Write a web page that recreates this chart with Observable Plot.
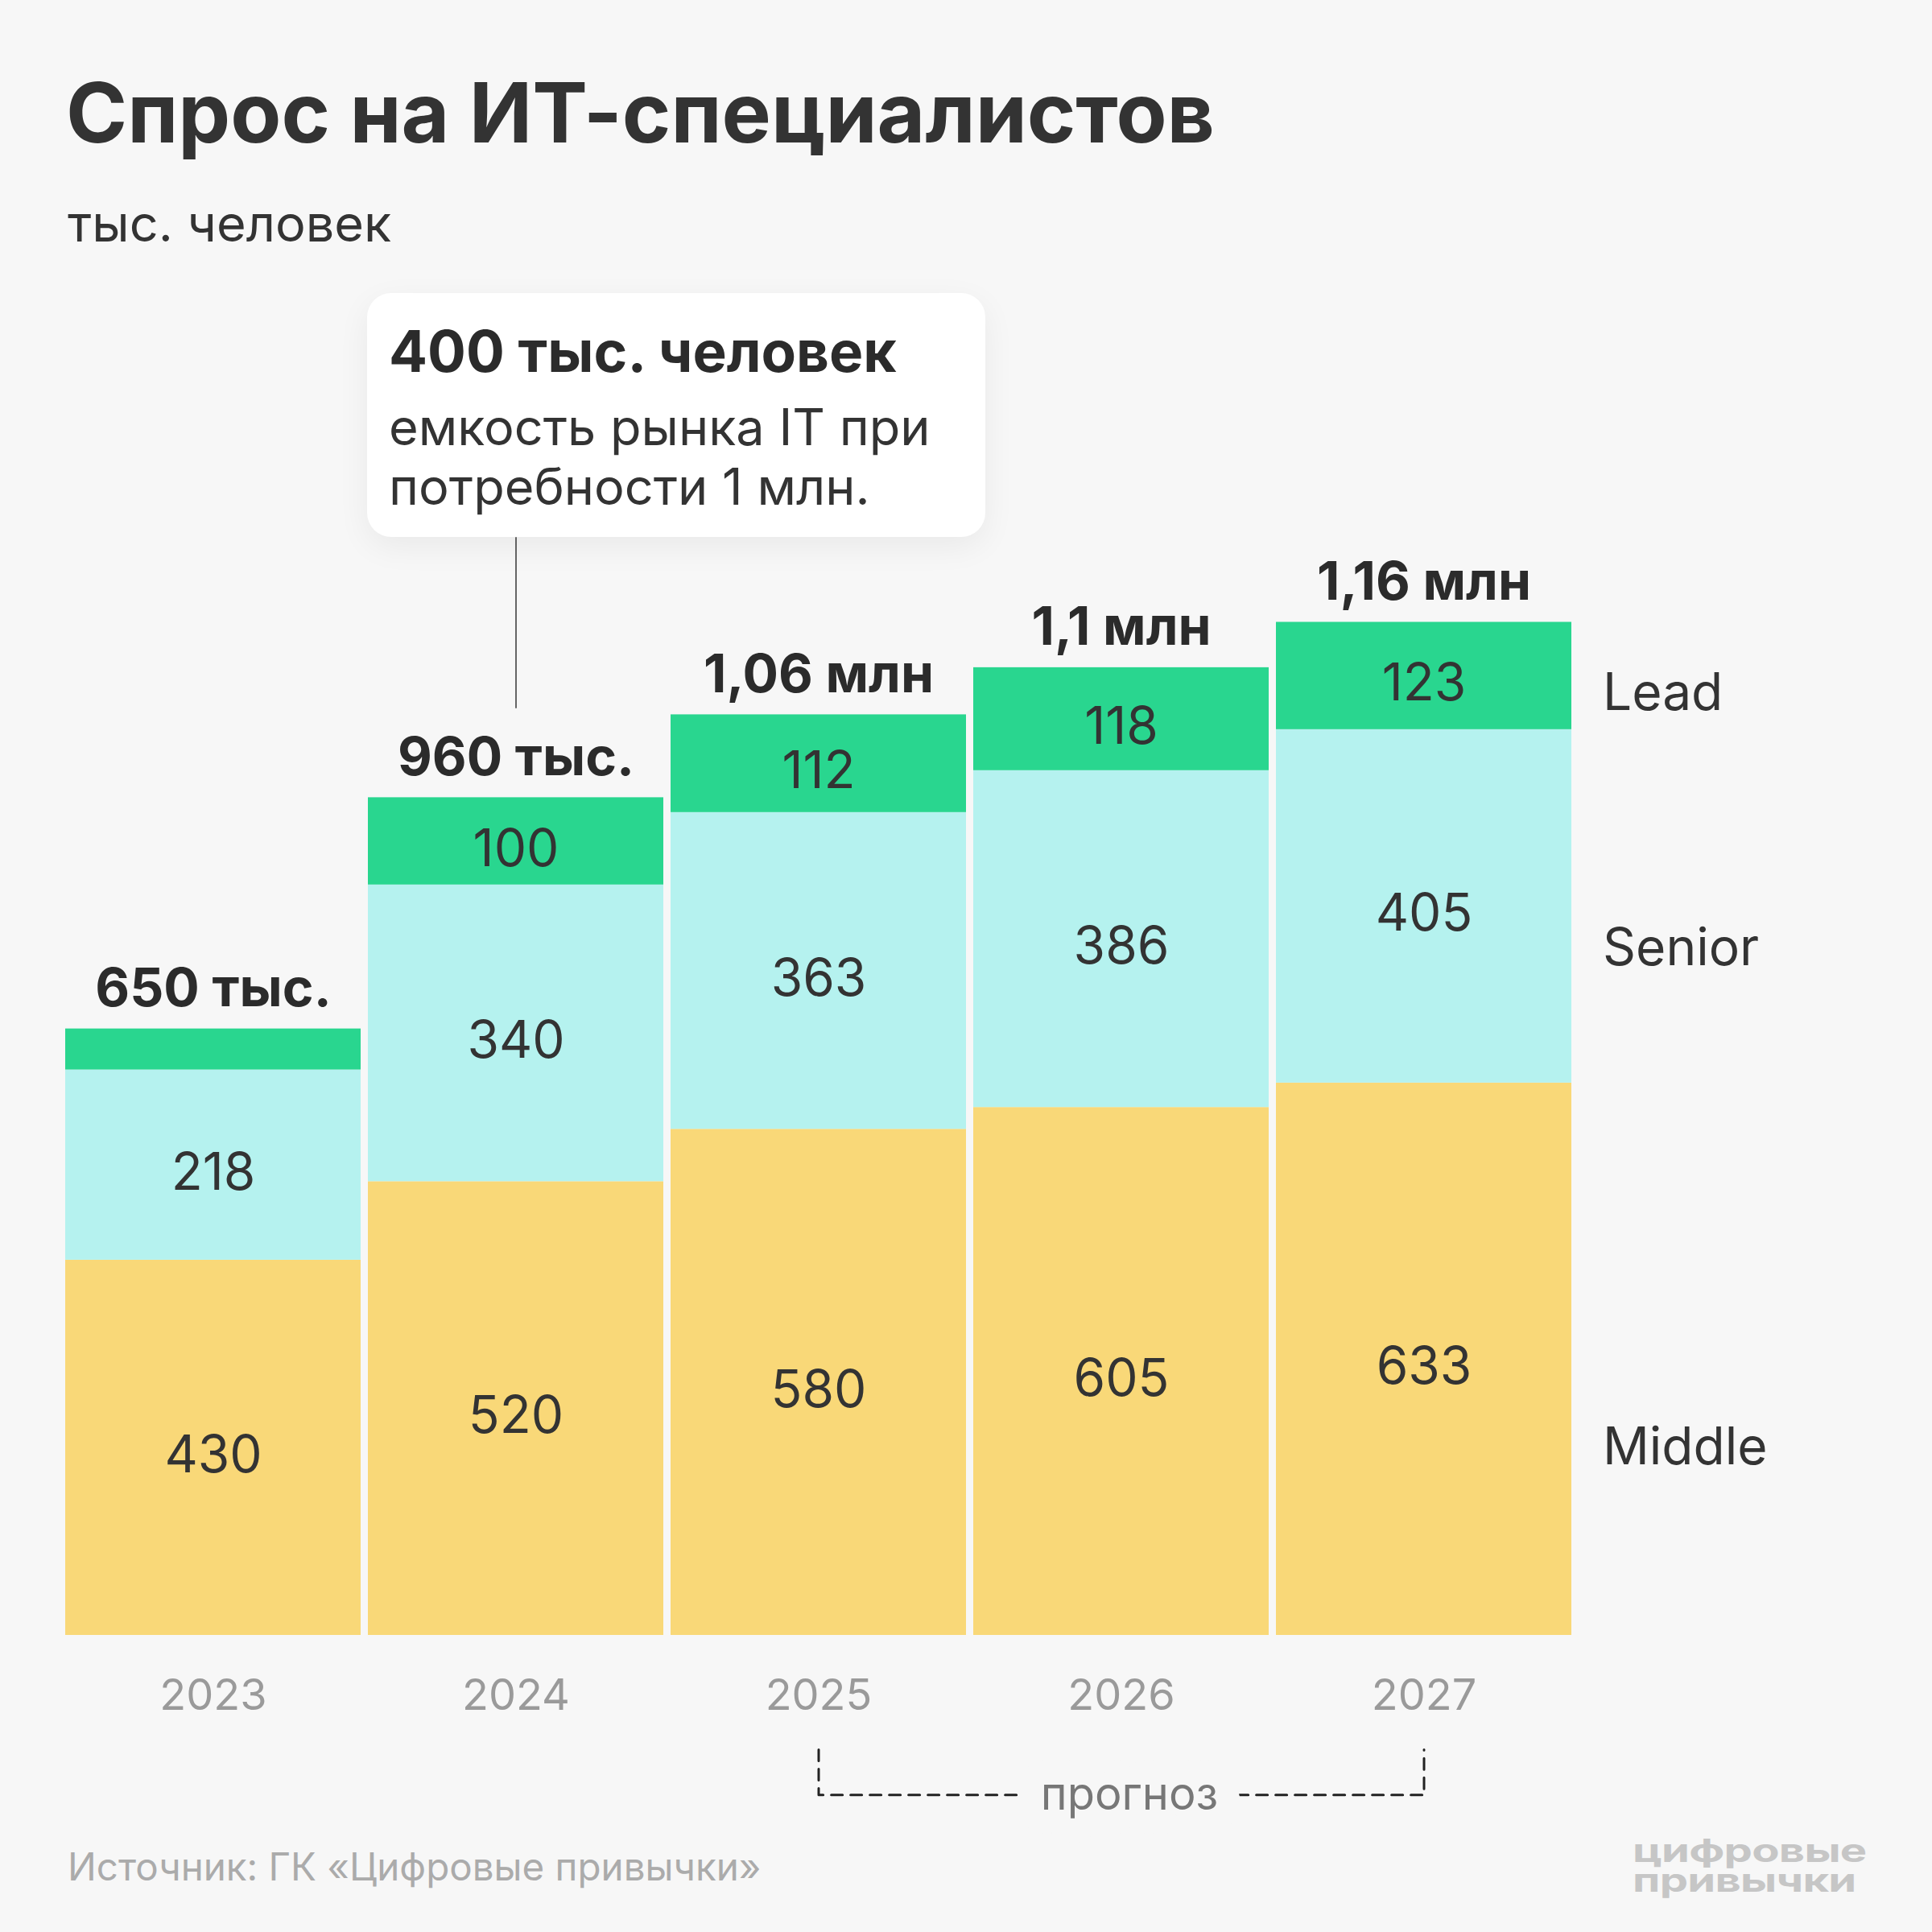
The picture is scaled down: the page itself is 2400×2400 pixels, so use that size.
<!DOCTYPE html>
<html><head><meta charset="utf-8">
<script src="https://cdn.jsdelivr.net/npm/d3@7"></script>
<script src="https://cdn.jsdelivr.net/npm/@observablehq/plot@0.6"></script>
<style>
body{margin:0;background:#f7f7f7;}
#root{position:relative;width:2400px;height:2400px;font-family:Inter,"Noto Sans",sans-serif;color:#333;background:#f7f7f7;overflow:hidden}
#header{position:relative;height:340px}
.t{position:absolute;white-space:nowrap;line-height:1}
#chart svg{display:block}
</style></head><body>
<div id="root">
 <div id="header">
  <div class="t" style="left:82px;top:88px;font-size:103px;font-weight:700;color:#333">Спрос на ИТ-специалистов</div>
  <div class="t" style="left:84px;top:246px;font-size:63px;color:#333">тыс. человек</div>
 </div>
 <div id="chart"></div>
 <div id="footer" style="position:relative;height:140px">
  <div class="t" style="left:84px;top:35px;font-size:47.5px;color:#ababab">Источник: ГК «Цифровые привычки»</div>
  <div class="t" style="right:81px;top:20px;font-size:40px;font-weight:700;color:#c6c6c6;line-height:37px;text-align:left;transform:scaleX(1.4);transform-origin:right top;letter-spacing:-0.5px">цифровые<br>привычки</div>
 </div>
 <div id="callout" style="position:absolute;left:456px;top:364px;width:768px;height:303px;background:#fff;border-radius:30px;box-shadow:0 12px 40px rgba(0,0,0,0.06)">
  <div class="t" style="left:27px;top:37px;font-size:71px;font-weight:700;color:#2b2b2b">400 тыс. человек</div>
  <div class="t" style="left:27px;top:129px;font-size:63px;line-height:74px;color:#333">емкость рынка IT при<br>потребности 1 млн.</div>
 </div>
</div>
<script>
const years = ["2023","2024","2025","2026","2027"];
const middle = [430,520,580,605,633];
const senior = [218,340,363,386,405];
const lead = [47,100,112,118,123];
const totalLabels = ["650 тыс.","960 тыс.","1,06 млн","1,1 млн","1,16 млн"];
const seriesNames = ["Middle","Senior","Lead"];
const seriesColors = ["#F9D878","#B5F2EF","#29D68F"];
const seriesLabelY = [215,787,1079];
const forecastFrom = "2025", forecastTo = "2027", forecastMid = "2026";
const forecastText = "прогноз";
const bracketY = [-131,-183];
const calloutYear = "2024";
const calloutLineY = [1062,1258];

const seriesArrays = [middle, senior, lead];
const rows = [];
years.forEach((yr,i)=>{
  let base = 0;
  seriesArrays.forEach((arr,j)=>{
    rows.push({year:yr, series:seriesNames[j], value:arr[i], y1:base, y2:base+arr[i]});
    base += arr[i];
  });
});
const totals = years.map((yr,i)=>({year:yr, total:middle[i]+senior[i]+lead[i], label:totalLabels[i]}));
const bracket = [
  {x:forecastFrom, y:bracketY[0]},
  {x:forecastFrom, y:bracketY[1]},
  {x:forecastTo, y:bracketY[1]},
  {x:forecastTo, y:bracketY[0]}
];
const seriesLabels = seriesNames.map((s,i)=>({name:s, y:seriesLabelY[i], year:years[years.length-1]}));

const chart = Plot.plot({
  width:2400, height:1920,
  marginLeft:80, marginRight:448, marginTop:0, marginBottom:229,
  style:{background:"transparent", fontFamily:"Inter, 'Noto Sans', sans-serif", overflow:"visible"},
  x:{domain:years, paddingInner:0.024, paddingOuter:0, axis:null},
  y:{domain:[0,1560], axis:null},
  color:{domain:seriesNames, range:seriesColors},
  marks:[
    Plot.rectY(rows, {x:"year", y1:"y1", y2:"y2", fill:"series"}),
    Plot.text(rows.filter(d=>d.value>=60), {x:"year", y:d=>(d.y1+d.y2)/2, text:d=>String(d.value), fontSize:64, fill:"#333", lineAnchor:"middle", dy:10}),
    Plot.text(totals, {x:"year", y:"total", text:"label", fontSize:66, fontWeight:700, fill:"#2b2b2b", lineAnchor:"bottom", dy:-28}),
    Plot.text(seriesLabels, {x:"year", y:"y", text:"name", textAnchor:"start", dx:222, fontSize:64, fill:"#333", lineAnchor:"middle"}),
    Plot.axisX({tickSize:0, tickPadding:54, fontSize:54, fill:"#9a9a9a"}),
    Plot.ruleX([calloutYear], {x:d=>d, y1:calloutLineY[0], y2:calloutLineY[1], stroke:"#666", strokeWidth:2}),
    Plot.line(bracket, {x:"x", y:"y", stroke:"#222", strokeWidth:3, strokeDasharray:"14,10", curve:"linear"}),
    Plot.text([forecastMid], {x:d=>d, y:bracketY[1], text:()=>forecastText, fontSize:56, fill:"#777", stroke:"#f7f7f7", strokeWidth:60, strokeLinejoin:"round", lineAnchor:"middle", dx:10})
  ]
});
document.getElementById("chart").appendChild(chart);
</script>
</body></html>
